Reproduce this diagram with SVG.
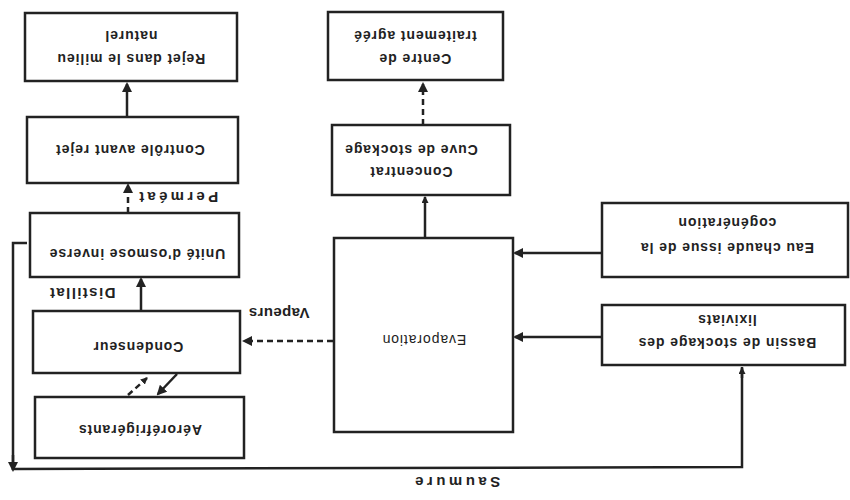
<svg xmlns="http://www.w3.org/2000/svg" width="850" height="500" viewBox="0 0 850 500">
<style>
.box{fill:#fff;stroke:#222;stroke-width:2.5}
.t{font-family:"Liberation Sans",Arial,sans-serif;font-weight:bold;font-size:14px;letter-spacing:0.9px;fill:#222;text-anchor:middle;dominant-baseline:central}
.lbl{font-family:"Liberation Sans",Arial,sans-serif;font-weight:bold;font-size:15px;fill:#222;text-anchor:middle;dominant-baseline:central}
.c{fill:none;stroke:#222;stroke-width:2.5}
.d{fill:none;stroke:#222;stroke-width:2.5;stroke-dasharray:6 4}
</style>
<defs>
<marker id="ah" markerWidth="10" markerHeight="10" refX="8" refY="5" orient="auto" markerUnits="userSpaceOnUse">
<path d="M0,0 L10,5 L0,10 z" fill="#222"/>
</marker>
<marker id="ahs" markerWidth="7" markerHeight="7" refX="6" refY="3.5" orient="auto" markerUnits="userSpaceOnUse">
<path d="M0,0 L7,3.5 L0,7 z" fill="#222"/>
</marker>
</defs>
<rect width="850" height="500" fill="#fff"/>
<g id="connectors">
<line class="c" x1="127" y1="117" x2="127" y2="84" marker-end="url(#ah)"/>
<line class="d" x1="128" y1="213" x2="128" y2="185" marker-end="url(#ah)"/>
<line class="c" x1="141" y1="310" x2="141" y2="279" marker-end="url(#ah)"/>
<line class="d" x1="333" y1="341" x2="244" y2="341" marker-end="url(#ah)"/>
<line class="c" x1="177" y1="374" x2="158" y2="394" marker-end="url(#ah)"/>
<line class="d" x1="128" y1="395" x2="147" y2="378" marker-end="url(#ahs)"/>
<line class="c" x1="602" y1="253" x2="515" y2="253" marker-end="url(#ah)"/>
<line class="c" x1="602" y1="337" x2="515" y2="337" marker-end="url(#ah)"/>
<line class="c" x1="425" y1="238" x2="425" y2="197" marker-end="url(#ahs)"/>
<line class="d" x1="423" y1="125" x2="423" y2="84" marker-end="url(#ah)"/>
<polyline class="c" points="742,367 742,467 13,469 13,243 27,243"/>
<line class="c" x1="13" y1="455" x2="13" y2="470" marker-end="url(#ah)"/>
<line class="c" x1="742" y1="378" x2="742" y2="368" marker-end="url(#ahs)"/>
</g>
<g id="rejet"><rect class="box" x="25" y="13" width="212" height="68"/>
<text class="t" transform="rotate(180 131 59)" x="131" y="59">Rejet dans le milieu</text>
<text class="t" transform="rotate(180 131 36)" x="131" y="36">naturel</text></g>
<g id="controle"><rect class="box" x="27" y="117" width="211" height="66"/>
<text class="t" transform="rotate(180 130 150)" x="130" y="150">Contrôle avant rejet</text></g>
<g id="osmose"><rect class="box" x="30" y="213" width="209" height="64"/>
<text class="t" transform="rotate(180 137 254)" x="137" y="254">Unité d'osmose inverse</text></g>
<g id="condenseur"><rect class="box" x="33" y="311" width="207" height="62"/>
<text class="t" transform="rotate(180 138 347)" x="138" y="347">Condenseur</text></g>
<g id="aero"><rect class="box" x="35" y="397" width="209" height="61"/>
<text class="t" transform="rotate(180 140 430)" x="140" y="430">Aéroréfrigérants</text></g>
<g id="evaporation"><rect class="box" x="334" y="238" width="179" height="194"/>
<text class="t" transform="rotate(180 424 340)" x="424" y="340" style="font-weight:normal">Evaporation</text></g>
<g id="concentrat"><rect class="box" x="332" y="125" width="178" height="70"/>
<text class="t" transform="rotate(180 411 172)" x="411" y="172">Concentrat</text>
<text class="t" transform="rotate(180 411 150)" x="411" y="150">Cuve de stockage</text></g>
<g id="centre"><rect class="box" x="328" y="12" width="175" height="68"/>
<text class="t" transform="rotate(180 415 59)" x="415" y="59">Centre de</text>
<text class="t" transform="rotate(180 415 36)" x="415" y="36">traitement agréé</text></g>
<g id="eauchaude"><rect class="box" x="602" y="203" width="246" height="74"/>
<text class="t" transform="rotate(180 727 248)" x="727" y="248">Eau chaude issue de la</text>
<text class="t" transform="rotate(180 727 223)" x="727" y="223">cogénération</text></g>
<g id="bassin"><rect class="box" x="602" y="305" width="243" height="60"/>
<text class="t" transform="rotate(180 727 343)" x="727" y="343">Bassin de stockage des</text>
<text class="t" transform="rotate(180 727 320)" x="727" y="320">lixiviats</text></g>
<g id="labels">
<text class="lbl" transform="rotate(180 177 197)" x="177" y="197" style="letter-spacing:3.3px">Perméat</text>
<text class="lbl" transform="rotate(180 82 293)" x="82" y="293" style="letter-spacing:1.4px">Distillat</text>
<text class="lbl" transform="rotate(180 279 313)" x="279" y="313" style="letter-spacing:0.4px">Vapeurs</text>
<text class="lbl" transform="rotate(180 456 482)" x="456" y="482" style="letter-spacing:3.5px">Saumure</text>
</g>
</svg>
